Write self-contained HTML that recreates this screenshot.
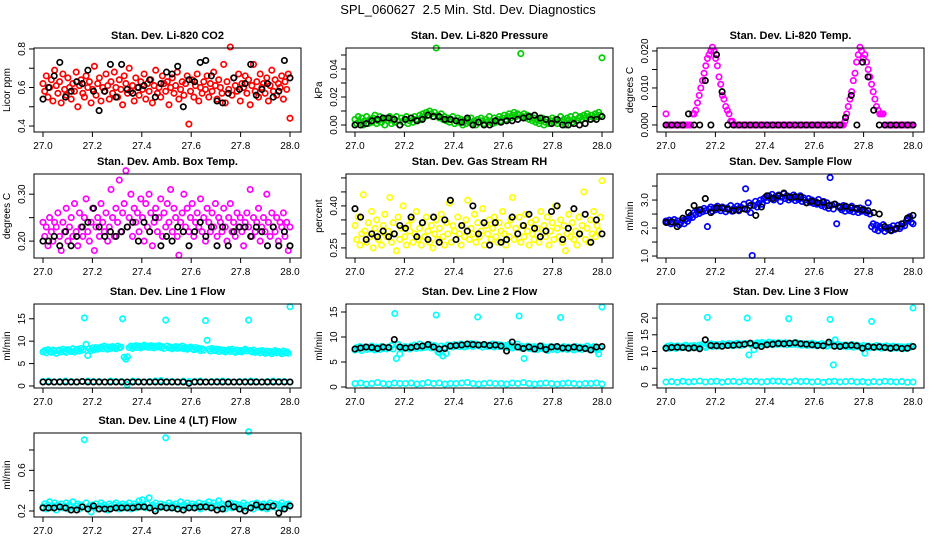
<!DOCTYPE html>
<html><head><meta charset="utf-8"><title>SPL_060627 diagnostics</title>
<style>
html,body{margin:0;padding:0;background:#fff;}
svg{display:block;font-family:"Liberation Sans",Arial,sans-serif;}
</style></head>
<body>
<svg id="fig" width="936" height="540" viewBox="0 0 936 540" xmlns="http://www.w3.org/2000/svg">
<rect x="0" y="0" width="936" height="540" fill="#fff"/>
<text x="468" y="14" text-anchor="middle" font-size="13" style="white-space:pre">SPL_060627  2.5 Min. Std. Dev. Diagnostics</text>
</svg>
<script>
// ---------- DATA ----------
const xTicks = [27.0, 27.2, 27.4, 27.6, 27.8, 28.0];
const xTickLabels = ["27.0","27.2","27.4","27.6","27.8","28.0"];

const co2Red = [0.62,0.58,0.66,0.55,0.60,0.64,0.53,0.69,0.61,0.57,0.63,0.52,0.67,0.59,0.56,0.65,0.60,0.54,0.62,0.58,0.68,0.50,0.61,0.64,0.57,0.55,0.66,0.60,0.63,0.52,0.59,0.71,0.56,0.62,0.65,0.53,0.60,0.58,0.67,0.61,0.54,0.63,0.57,0.68,0.60,0.55,0.64,0.59,0.51,0.66,0.62,0.57,0.70,0.58,0.61,0.53,0.65,0.60,0.56,0.63,0.59,0.67,0.54,0.62,0.58,0.64,0.52,0.61,0.69,0.57,0.60,0.55,0.66,0.62,0.58,0.63,0.51,0.60,0.65,0.57,0.61,0.68,0.54,0.59,0.63,0.56,0.62,0.66,0.41,0.58,0.64,0.55,0.61,0.67,0.53,0.60,0.57,0.63,0.59,0.66,0.55,0.62,0.58,0.68,0.61,0.54,0.64,0.60,0.57,0.72,0.52,0.63,0.59,0.81,0.56,0.65,0.61,0.58,0.67,0.53,0.62,0.60,0.66,0.57,0.64,0.51,0.61,0.72,0.58,0.63,0.55,0.67,0.60,0.62,0.57,0.65,0.53,0.61,0.69,0.58,0.64,0.56,0.62,0.60,0.66,0.54,0.63,0.59,0.67,0.44];
const co2Black = [0.54,0.60,0.66,0.73,0.55,0.58,0.63,0.62,0.69,0.58,0.48,0.58,0.72,0.55,0.72,0.59,0.57,0.60,0.61,0.64,0.55,0.62,0.68,0.67,0.71,0.50,0.64,0.63,0.73,0.74,0.66,0.53,0.52,0.57,0.65,0.59,0.62,0.72,0.56,0.59,0.62,0.55,0.58,0.74,0.65];
const co2Ticks = [0.4,0.5,0.6,0.7,0.8];
const co2TickLabels = ["0.4","","0.6","","0.8"];

const presGreen = [0.004,0.001,0.006,0.002,0.005,0.000,0.003,0.006,0.001,0.004,0.002,0.005,0.007,0.001,0.003,0.006,0.002,0.004,0.000,0.005,0.003,0.006,0.001,0.004,0.002,0.006,0.003,0.000,0.005,0.002,0.004,0.006,0.001,0.003,0.005,0.002,0.006,0.004,0.003,0.007,0.005,0.008,0.006,0.009,0.007,0.010,0.008,0.006,0.009,0.055,0.007,0.005,0.008,0.004,0.006,0.003,0.005,0.002,0.004,0.006,0.001,0.003,0.005,0.002,0.004,0.000,0.003,0.001,0.004,0.002,0.005,0.001,0.003,0.000,0.004,0.002,0.005,0.003,0.001,0.004,0.002,0.006,0.003,0.001,0.005,0.002,0.004,0.006,0.003,0.005,0.007,0.004,0.006,0.008,0.005,0.007,0.009,0.006,0.008,0.007,0.051,0.006,0.008,0.005,0.007,0.004,0.006,0.003,0.005,0.002,0.004,0.001,0.003,0.005,0.000,0.002,0.004,0.001,0.003,0.005,0.002,0.004,0.001,0.003,0.006,0.002,0.004,0.000,0.005,0.003,0.006,0.002,0.004,0.007,0.003,0.005,0.006,0.004,0.007,0.005,0.008,0.006,0.004,0.007,0.005,0.008,0.006,0.009,0.007,0.048];
const presBlack = [0.000,0.000,0.001,0.003,0.004,0.005,0.005,0.004,0.000,0.004,0.005,0.003,0.004,0.007,0.006,0.006,0.004,0.004,0.003,0.002,0.005,0.000,0.002,0.000,0.000,0.003,0.002,0.003,0.003,0.004,0.005,0.006,0.007,0.005,0.004,0.001,0.004,0.000,0.000,0.001,0.000,0.001,0.004,0.004,0.006];
const presTicks = [0.00,0.01,0.02,0.03,0.04,0.05];
const presTickLabels = ["0.00","","0.02","","0.04",""];

const tempMagenta = [0.003,0,0,0,0,0,0,0,0,0, 0,0,0,0,0,0,0.003,0.003,0.004,0.006, 0.008,0.010,0.012,0.014,0.016,0.018,0.019,0.020,0.021,0.020, 0.018,0.016,0.013,0.011,0.008,0.007,0.005,0.004,0.003,0.001, 0.001,0,0,0,0,0,0,0,0,0, 0,0,0,0,0,0,0,0,0,0, 0,0,0,0,0,0,0,0,0,0, 0,0,0,0,0,0,0,0,0,0, 0,0,0,0,0,0,0,0,0,0, 0,0,0,0,0,0,0,0,0,0, 0,0,0,0,0,0,0,0,0.001,0.003, 0.005,0.007,0.009,0.012,0.014,0.017,0.019,0.021,0.020,0.018, 0.019,0.017,0.015,0.013,0.011,0.009,0.007,0.005,0.004,0.003, 0.003,0.003,0,0,0,0,0,0,0,0, 0,0,0,0,0,0,0,0,0,0];
const tempBlack = [0,0,0,0,0.003,0,0,0.012,0,0.019,0.009,0,0,0,0,0,0,0,0,0,0,0,0,0,0,0,0,0,0,0,0,0,0.002,0.008,0,0.017,0.013,0.004,0,0,0,0,0,0,0];
const tempTicks = [0.000,0.005,0.010,0.015,0.020];
const tempTickLabels = ["0.000","","0.010","","0.020"];

const ambMagenta = [0.24,0.21,0.23,0.19,0.25,0.22,0.20,0.24,0.23,0.26,0.21,0.18,0.24,0.22,0.27,0.20,0.23,0.25,0.21,0.28,0.22,0.19,0.26,0.23,0.21,0.25,0.29,0.22,0.20,0.24,0.27,0.18,0.23,0.25,0.21,0.28,0.24,0.22,0.26,0.20,0.23,0.31,0.25,0.21,0.27,0.24,0.33,0.22,0.26,0.28,0.35,0.23,0.25,0.30,0.21,0.27,0.24,0.26,0.22,0.29,0.25,0.20,0.28,0.23,0.30,0.26,0.19,0.24,0.27,0.22,0.25,0.29,0.21,0.26,0.23,0.28,0.24,0.31,0.22,0.27,0.25,0.21,0.17,0.24,0.26,0.30,0.23,0.27,0.22,0.25,0.28,0.21,0.24,0.26,0.23,0.29,0.22,0.25,0.20,0.27,0.24,0.22,0.26,0.23,0.28,0.21,0.25,0.24,0.22,0.27,0.23,0.20,0.25,0.28,0.22,0.24,0.21,0.26,0.23,0.25,0.22,0.19,0.24,0.26,0.23,0.31,0.21,0.25,0.22,0.24,0.27,0.20,0.23,0.25,0.22,0.30,0.24,0.21,0.26,0.23,0.22,0.25,0.20,0.24,0.23,0.26,0.21,0.24,0.18,0.23];
const ambBlack = [0.20,0.20,0.21,0.19,0.22,0.19,0.21,0.23,0.24,0.27,0.23,0.21,0.22,0.21,0.22,0.23,0.24,0.20,0.24,0.22,0.25,0.19,0.21,0.20,0.23,0.22,0.19,0.22,0.24,0.21,0.23,0.19,0.23,0.19,0.22,0.23,0.23,0.21,0.23,0.22,0.19,0.23,0.19,0.22,0.19];
const ambTicks = [0.20,0.25,0.30];
const ambTickLabels = ["0.20","","0.30"];

const rhYellow = [0.33,0.28,0.36,0.26,0.30,0.44,0.31,0.27,0.34,0.29,0.38,0.25,0.32,0.35,0.28,0.30,0.26,0.33,0.37,0.29,0.31,0.43,0.27,0.34,0.30,0.24,0.36,0.28,0.32,0.40,0.29,0.26,0.33,0.31,0.35,0.27,0.30,0.38,0.28,0.32,0.26,0.34,0.29,0.36,0.31,0.27,0.33,0.25,0.30,0.35,0.28,0.32,0.37,0.29,0.26,0.34,0.30,0.41,0.27,0.33,0.31,0.28,0.36,0.30,0.26,0.33,0.29,0.35,0.42,0.28,0.32,0.30,0.37,0.27,0.34,0.29,0.31,0.39,0.26,0.33,0.30,0.35,0.28,0.32,0.36,0.29,0.27,0.34,0.31,0.38,0.30,0.26,0.33,0.29,0.35,0.43,0.28,0.32,0.30,0.36,0.27,0.33,0.29,0.37,0.31,0.26,0.34,0.30,0.28,0.35,0.32,0.27,0.38,0.30,0.33,0.29,0.36,0.26,0.31,0.34,0.28,0.40,0.32,0.29,0.35,0.27,0.33,0.24,0.30,0.37,0.29,0.34,0.28,0.31,0.26,0.36,0.30,0.33,0.45,0.28,0.32,0.27,0.35,0.30,0.38,0.29,0.33,0.31,0.36,0.49];
const rhBlack = [0.39,0.36,0.28,0.30,0.29,0.31,0.29,0.30,0.33,0.32,0.36,0.29,0.34,0.28,0.36,0.27,0.35,0.42,0.28,0.33,0.31,0.40,0.30,0.34,0.26,0.34,0.27,0.28,0.36,0.30,0.33,0.37,0.32,0.29,0.31,0.38,0.40,0.28,0.32,0.39,0.30,0.37,0.27,0.35,0.30];
const rhTicks = [0.25,0.30,0.35,0.40,0.45,0.50];
const rhTickLabels = ["0.25","","","0.40","",""];

const flowBlue = [2.25,2.20,2.28,2.15,2.22,2.30,2.18,2.25,2.12,2.20,2.27,2.15,2.32,2.24,2.35,2.45,2.38,2.55,2.48,2.60,2.52,2.65,2.58,2.70,2.62,2.05,2.68,2.75,2.60,2.72,2.65,2.78,2.70,2.62,2.75,2.68,2.58,2.72,2.65,2.80,2.60,2.70,2.66,2.78,2.62,2.75,2.70,2.85,3.40,2.65,2.90,2.55,1.02,2.80,2.95,2.75,2.88,3.00,2.85,3.05,3.10,2.98,3.15,3.05,3.20,3.00,3.12,3.08,3.18,2.95,3.10,3.22,3.05,3.15,3.00,3.12,3.05,3.18,2.98,3.10,3.02,3.15,2.95,3.08,3.00,2.90,3.05,2.92,3.00,2.88,2.95,2.85,3.02,2.88,2.80,2.95,2.75,2.90,2.70,3.80,2.82,2.68,2.85,2.15,2.78,2.72,2.65,2.80,2.60,2.75,2.68,2.62,2.78,2.58,2.70,2.65,2.55,2.72,2.60,2.68,2.62,2.55,2.90,2.50,2.05,2.15,1.95,2.10,1.90,2.05,1.98,2.12,1.88,2.00,1.95,2.02,1.90,2.08,1.95,2.00,2.10,1.98,2.05,2.15,2.08,2.25,2.30,2.40,2.20,2.15];
const flowBlack = [2.20,2.22,2.05,2.35,2.55,2.80,2.65,3.05,2.55,2.72,2.72,2.68,2.62,2.65,2.68,2.80,2.45,2.75,3.15,3.05,3.15,3.25,3.10,3.12,3.10,2.90,2.95,2.90,2.92,2.80,2.85,2.75,2.78,2.72,2.70,2.65,2.62,2.55,2.50,2.05,1.92,1.98,2.15,2.35,2.45];
const flowTicks = [1.0,1.5,2.0,2.5,3.0,3.5];
const flowTickLabels = ["1.0","","2.0","","3.0",""];

const line1CyanHigh = [7.6,7.9,7.4,8.1,7.7,7.5,8.0,7.8,7.3,7.9,8.0,7.6,8.2,7.8,7.5,8.1,7.9,7.7,8.3,7.6,8.0,8.2,7.8,8.4,8.0,15.2,9.3,6.8,8.3,7.9,8.5,8.1,8.6,8.2,8.4,8.7,8.3,8.9,8.5,8.2,8.7,8.4,8.8,8.6,8.3,8.9,8.5,8.7,15.0,6.4,6.0,6.5,8.6,8.9,8.4,8.8,9.0,8.6,8.9,8.5,8.8,9.1,8.7,8.9,8.6,9.0,8.8,8.5,8.9,8.7,9.0,8.6,8.8,8.4,14.7,8.9,8.5,8.7,8.3,8.6,8.8,8.4,8.7,8.5,8.9,8.3,8.6,8.2,8.5,8.7,8.3,8.1,8.6,8.2,8.4,7.9,8.3,8.0,14.6,10.2,8.2,7.8,8.4,8.0,7.9,8.2,7.7,8.1,7.8,8.0,7.6,7.9,8.1,7.7,8.2,7.8,7.5,8.0,7.7,7.9,7.6,7.9,8.2,7.8,14.7,7.9,7.6,8.0,7.5,7.7,7.8,7.4,7.9,7.6,7.3,7.8,7.5,7.7,7.2,7.6,7.9,7.4,7.7,7.5,7.2,7.8,7.4,7.6,7.3,17.7];
const line1CyanLow = [1.0,1.1,0.9,1.0,1.1,1.0,0.9,1.0,1.1,1.0,1.0,0.9,1.1,1.0,1.0,0.3,1.1,1.0,0.9,1.0,1.1,1.2,1.0,1.0,0.9,1.1,1.0,1.0,1.1,0.9,1.0,1.0,1.1,1.0,0.9,1.0,1.0,1.1,1.0,0.9,1.0,1.1,1.0,1.0,0.9];
const line1Black = [0.9,0.9,0.9,0.9,0.9,0.9,0.9,1.0,0.9,0.9,0.9,0.9,0.9,0.9,0.9,0.9,0.9,0.9,0.9,0.9,0.9,0.9,0.9,0.9,0.9,0.9,0.6,0.9,0.9,0.9,0.9,0.9,0.9,0.9,0.9,0.9,0.9,0.9,0.9,0.9,0.9,0.9,0.9,0.9,0.9];
const line1Ticks = [0,5,10,15];
const line1TickLabels = ["0","5","10","15"];

const line2CyanHigh = [7.4,7.9,7.6,8.1,7.3,7.8,8.0,7.5,7.9,7.6,8.2,7.7,7.4,8.0,7.8,7.5,8.1,7.7,7.9,7.6,8.0,7.8,8.3,7.6,14.7,5.7,8.5,6.6,7.9,7.7,8.1,7.8,8.0,7.6,8.2,7.9,8.4,7.7,8.0,8.6,7.8,8.2,7.9,8.3,8.0,8.5,7.8,8.1,8.3,14.4,7.0,6.8,8.2,6.2,8.0,6.7,8.4,8.1,8.3,8.0,8.5,8.2,8.4,8.1,8.6,8.3,8.0,8.5,8.2,8.4,8.7,8.1,8.3,8.6,14.0,8.2,8.4,8.0,8.5,8.3,8.1,8.4,8.2,8.6,8.0,8.3,8.5,8.1,8.4,8.2,8.0,8.3,7.9,8.5,8.1,7.8,8.3,8.0,8.6,14.2,7.8,8.1,5.7,7.9,8.2,7.7,8.0,7.6,8.1,7.9,7.5,8.0,7.7,8.2,7.6,7.9,7.3,7.8,8.1,7.5,8.0,7.7,7.4,7.9,13.9,7.6,8.1,7.8,7.5,8.0,7.7,7.9,7.4,8.1,7.6,7.8,8.0,7.5,7.9,7.7,8.2,7.6,7.9,7.5,8.1,7.7,7.4,6.6,7.8,16.0];
const line2CyanLow = [0.7,0.8,0.6,0.7,0.9,0.7,0.6,0.8,0.7,0.7,0.8,0.6,0.7,0.9,0.7,0.8,0.6,0.7,0.7,0.8,0.9,0.7,0.6,0.7,0.8,0.7,0.7,0.6,0.8,0.7,0.9,0.7,0.6,0.7,0.8,0.7,0.6,0.7,0.8,0.7,0.6,0.7,0.7,0.8,0.6];
const line2Black = [7.6,7.8,8.0,7.9,7.7,8.0,7.9,9.5,8.0,7.8,7.9,8.1,8.2,8.5,8.0,7.6,7.7,8.2,8.3,8.4,8.6,8.5,8.4,8.5,8.3,8.4,8.2,7.2,9.0,8.0,7.7,8.0,7.6,8.2,7.5,8.0,8.1,7.8,7.8,8.0,7.8,7.7,7.4,8.0,8.1];
const line2Ticks = [0,5,10,15];
const line2TickLabels = ["0","5","10","15"];

const line3CyanHigh = [11.2,11.6,11.0,11.8,11.3,11.5,10.9,11.7,11.4,11.1,11.6,11.2,11.9,11.4,11.0,11.7,11.3,11.8,11.5,11.1,11.9,11.4,12.1,11.6,11.2,20.2,11.8,12.3,11.5,11.9,12.1,11.6,12.0,11.7,12.3,11.9,12.2,11.8,12.4,12.0,11.7,12.2,11.9,12.5,12.1,11.8,12.3,12.0,12.4,20.0,9.0,12.1,12.4,10.5,12.2,12.6,12.0,12.3,12.7,12.1,12.5,12.2,12.8,12.3,12.0,12.6,12.4,12.1,12.7,12.3,12.5,12.2,12.6,12.0,19.8,12.4,12.1,12.5,12.2,12.6,12.0,12.3,11.9,12.4,12.1,11.8,12.3,12.0,12.5,11.9,12.2,11.7,12.1,11.9,12.4,11.8,12.0,11.6,12.2,19.6,11.9,6.0,13.5,11.7,12.1,11.5,11.9,11.6,12.0,11.4,11.8,11.5,12.1,11.3,11.7,11.9,11.4,11.6,11.2,11.8,9.5,11.4,11.7,11.1,19.0,11.5,11.2,11.8,11.3,11.6,11.0,11.5,11.2,11.7,11.1,11.4,10.9,11.6,11.2,11.0,11.5,11.1,11.4,10.8,11.3,11.0,11.5,11.2,11.6,23.0];
const line3CyanLow = [0.9,1.0,0.8,1.1,0.9,1.0,1.2,0.9,1.0,1.1,0.8,1.0,1.1,0.9,1.2,1.0,1.1,0.9,1.0,1.2,1.1,1.0,0.9,1.2,1.0,1.1,0.9,1.0,0.8,1.0,1.1,0.9,1.0,1.1,0.9,1.0,0.8,1.0,0.9,1.1,1.0,0.9,1.0,0.8,0.9];
const line3Black = [11.0,11.2,11.3,11.2,11.0,11.1,10.8,13.5,11.8,11.7,11.6,11.8,11.9,12.0,12.2,12.5,11.8,11.5,12.0,12.2,12.4,12.3,12.5,12.6,12.3,12.2,12.0,11.8,11.7,12.8,11.6,11.5,11.8,11.9,11.7,11.0,11.5,11.3,11.4,11.2,11.0,11.2,10.9,11.0,11.5];
const line3Ticks = [0,5,10,15,20];
const line3TickLabels = ["0","5","10","15","20"];

const line4Cyan = [0.24,0.27,0.22,0.26,0.29,0.23,0.25,0.28,0.21,0.26,0.24,0.27,0.23,0.25,0.28,0.22,0.26,0.24,0.29,0.23,0.25,0.27,0.22,0.26,0.24,0.90,0.28,0.23,0.25,0.19,0.26,0.24,0.27,0.22,0.25,0.28,0.23,0.26,0.24,0.21,0.27,0.25,0.23,0.26,0.28,0.24,0.22,0.25,0.27,0.23,0.26,0.24,0.28,0.22,0.25,0.27,0.23,0.26,0.30,0.24,0.31,0.25,0.23,0.27,0.33,0.24,0.26,0.22,0.28,0.25,0.23,0.27,0.24,0.26,0.92,0.25,0.28,0.23,0.26,0.24,0.27,0.22,0.25,0.29,0.24,0.26,0.23,0.28,0.25,0.24,0.27,0.23,0.26,0.24,0.28,0.22,0.25,0.27,0.24,0.26,0.29,0.23,0.25,0.28,0.24,0.26,0.30,0.23,0.27,0.25,0.22,0.26,0.24,0.28,0.23,0.25,0.27,0.24,0.26,0.22,0.25,0.28,0.23,0.26,0.98,0.24,0.27,0.22,0.25,0.28,0.24,0.26,0.23,0.27,0.25,0.22,0.26,0.28,0.24,0.25,0.27,0.23,0.26,0.24,0.28,0.25,0.23,0.26,0.27,0.25];
const line4Black = [0.23,0.23,0.23,0.24,0.23,0.21,0.21,0.24,0.22,0.25,0.22,0.22,0.22,0.23,0.23,0.23,0.23,0.24,0.24,0.23,0.20,0.24,0.23,0.23,0.22,0.21,0.23,0.23,0.24,0.24,0.23,0.21,0.22,0.27,0.24,0.22,0.20,0.23,0.26,0.24,0.24,0.25,0.18,0.22,0.25];
const line4Ticks = [0.2,0.4,0.6,0.8];
const line4TickLabels = ["0.2","","0.6",""];

// ---------- LAYOUT ----------
const NS = "http://www.w3.org/2000/svg";
const svg = document.getElementById("fig");
const colLeft = [34, 346, 657];
const rowTop = [48, 174, 304, 433];
const boxW = 267, boxH = 84;

function el(tag, attrs, parent) {
  const e = document.createElementNS(NS, tag);
  for (const k in attrs) e.setAttribute(k, attrs[k]);
  parent.appendChild(e);
  return e;
}

const panels = [
  {key:"co2", title:"Stan. Dev. Li-820 CO2", ylab:"Licor ppm", c:0, r:0, ylim:[0.369,0.805], ticks:co2Ticks, labels:co2TickLabels, series:[[co2Red,"#ff0000"],[co2Black,"#000"]]},
  {key:"pressure", title:"Stan. Dev. Li-820 Pressure", ylab:"kPa", c:1, r:0, ylim:[-0.005,0.055], ticks:presTicks, labels:presTickLabels, series:[[presGreen,"#00cc00"],[presBlack,"#000"]]},
  {key:"li820-temp", title:"Stan. Dev. Li-820 Temp.", ylab:"degrees C", c:2, r:0, ylim:[-0.0019,0.0208], ticks:tempTicks, labels:tempTickLabels, series:[[tempMagenta,"#ff00ff"],[tempBlack,"#000"]]},
  {key:"amb-box-temp", title:"Stan. Dev. Amb. Box Temp.", ylab:"degrees C", c:0, r:1, ylim:[0.164,0.343], ticks:ambTicks, labels:ambTickLabels, series:[[ambMagenta,"#ff00ff"],[ambBlack,"#000"]]},
  {key:"gas-stream-rh", title:"Stan. Dev. Gas Stream RH", ylab:"percent", c:1, r:1, ylim:[0.214,0.514], ticks:rhTicks, labels:rhTickLabels, series:[[rhYellow,"#ffff00"],[rhBlack,"#000"]]},
  {key:"sample-flow", title:"Stan. Dev. Sample Flow", ylab:"ml/min", c:2, r:1, ylim:[0.93,3.93], ticks:flowTicks, labels:flowTickLabels, series:[[flowBlue,"#0000ff"],[flowBlack,"#000"]]},
  {key:"line1-flow", title:"Stan. Dev. Line 1 Flow", ylab:"ml/min", c:0, r:2, ylim:[-0.45,18.3], ticks:line1Ticks, labels:line1TickLabels, series:[[line1CyanHigh,"#00ffff"],[line1CyanLow,"#00ffff"],[line1Black,"#000"]]},
  {key:"line2-flow", title:"Stan. Dev. Line 2 Flow", ylab:"ml/min", c:1, r:2, ylim:[-0.2,16.6], ticks:line2Ticks, labels:line2TickLabels, series:[[line2CyanHigh,"#00ffff"],[line2CyanLow,"#00ffff"],[line2Black,"#000"]]},
  {key:"line3-flow", title:"Stan. Dev. Line 3 Flow", ylab:"ml/min", c:2, r:2, ylim:[-0.9,24.2], ticks:line3Ticks, labels:line3TickLabels, series:[[line3CyanHigh,"#00ffff"],[line3CyanLow,"#00ffff"],[line3Black,"#000"]]},
  {key:"line4-flow", title:"Stan. Dev. Line 4 (LT) Flow", ylab:"ml/min", c:0, r:3, ylim:[0.141,0.967], ticks:line4Ticks, labels:line4TickLabels, series:[[line4Cyan,"#00ffff"],[line4Black,"#000"]]}
];

panels.forEach(p => {
  const L = colLeft[p.c], T = rowTop[p.r], B = T + boxH;
  const g = el("g", {}, svg);
  
  
  const xScale = v => L + 9 + (v - 27) * 247;
  const yScale = v => B - (v - p.ylim[0]) / (p.ylim[1] - p.ylim[0]) * boxH;

  const t = el("text", {x: L + boxW/2, y: T - 9, "text-anchor":"middle", "font-size":"11", "font-weight":"bold"}, g);
  t.textContent = p.title;
  
  

  const pts = el("g", {fill:"none"}, g);
  
  
  p.series.forEach((s) => {
    const vals = s[0], n = vals.length;
    vals.forEach((v, i) => {
      const cx = xScale(27 + i / (n - 1));
      const cy = yScale(v);
      const c = el("circle", {cx: cx.toFixed(1), cy: cy.toFixed(1), r: 2.7, stroke: s[1], "stroke-width": 1.7, fill:"none"}, pts);
      
      
    });
  });

  const box = el("rect", {x: L, y: T, width: boxW, height: boxH, fill:"none", stroke:"#000", "stroke-width":1}, g);
  
  

  const xa = el("g", {}, g);
  
  
  el("line", {x1: xScale(xTicks[0]), x2: xScale(xTicks[xTicks.length-1]), y1: B, y2: B, stroke:"#000"}, xa);
  xTicks.forEach((v, i) => {
    const x = xScale(v);
    el("line", {x1:x, x2:x, y1:B, y2:B+5, stroke:"#000"}, xa);
    const tl = el("text", {x:x, y:B+17, "text-anchor":"middle", "font-size":"10"}, xa);
    tl.textContent = xTickLabels[i];
    
    
  });

  const ya = el("g", {}, g);
  
  
  el("line", {x1:L, x2:L, y1: yScale(p.ticks[0]), y2: yScale(p.ticks[p.ticks.length-1]), stroke:"#000"}, ya);
  p.ticks.forEach((v, i) => {
    const y = yScale(v);
    el("line", {x1:L-5, x2:L, y1:y, y2:y, stroke:"#000"}, ya);
    if (p.labels[i]) {
      const tl = el("text", {x:L-9, y:y, "text-anchor":"middle", "font-size":"10", transform:`rotate(-90 ${L-9} ${y})`}, ya);
      tl.textContent = p.labels[i];
      
      
    }
  });
  const yl = el("text", {x:L-24, y:T+boxH/2, "text-anchor":"middle", "font-size":"10", transform:`rotate(-90 ${L-24} ${T+boxH/2})`}, ya);
  yl.textContent = p.ylab;
  
  
});
</script>
</body></html>
